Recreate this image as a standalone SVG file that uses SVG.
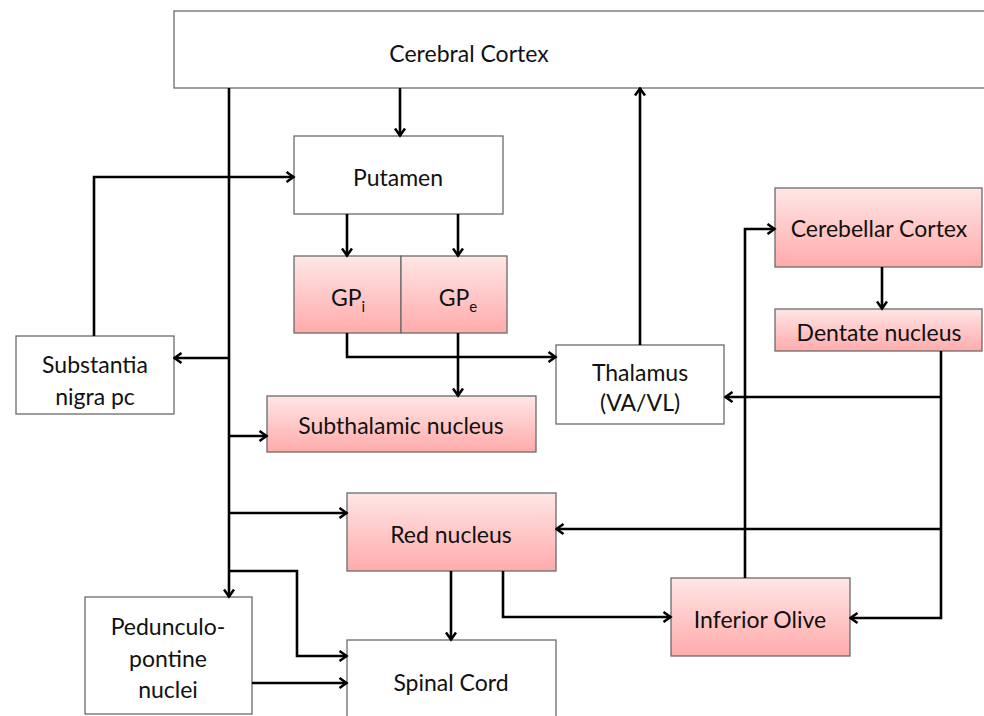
<svg xmlns="http://www.w3.org/2000/svg" width="984" height="716" viewBox="0 0 984 716">
<defs>
<linearGradient id="pink" x1="0" y1="0" x2="0" y2="1">
<stop offset="0" stop-color="#FFE6E6"/>
<stop offset="1" stop-color="#FFABAB"/>
</linearGradient>
<marker id="ah" markerUnits="userSpaceOnUse" viewBox="0 0 12 12" refX="10.5" refY="6" markerWidth="12" markerHeight="12" orient="auto">
<path d="M3,1 L10,6 L3,11" fill="none" stroke="#000" stroke-width="2.5"/>
</marker>
</defs>
<style>
.w{fill:#fff;stroke:#6b6b6b;stroke-width:1.3}
.p{fill:url(#pink);stroke:#6b6b6b;stroke-width:1.3}
text{font-family:Lato,"Open Sans","Liberation Sans",sans-serif;font-size:23px;fill:#111;text-anchor:middle}
.c{fill:none;stroke:#000;stroke-width:2.6}
.a{marker-end:url(#ah)}
</style>
<rect width="984" height="716" fill="#fff"/>
<g id="cerebral-cortex"><rect class="w" x="174" y="11" width="812" height="77"/><text x="469" y="62">Cerebral Cortex</text></g>
<g id="putamen"><rect class="w" x="294" y="136" width="209" height="78"/><text x="398" y="186">Putamen</text></g>
<g id="gpi"><rect class="p" x="294" y="256" width="107" height="77"/><text x="348" y="306">GP<tspan font-size="15" dy="6">i</tspan></text></g>
<g id="gpe"><rect class="p" x="401" y="256" width="106" height="77"/><text x="458" y="306">GP<tspan font-size="15" dy="6">e</tspan></text></g>
<g id="substantia-nigra"><rect class="w" x="16" y="336" width="158" height="78"/><text x="95" y="373">Substantia</text><text x="95" y="405">nigra pc</text></g>
<g id="subthalamic"><rect class="p" x="267" y="396" width="269" height="56"/><text x="401" y="434">Subthalamic nucleus</text></g>
<g id="thalamus"><rect class="w" x="556" y="345" width="168" height="79"/><text x="640" y="381">Thalamus</text><text x="640" y="411">(VA/VL)</text></g>
<g id="cerebellar-cortex"><rect class="p" x="775" y="188" width="207" height="79"/><text x="879" y="237">Cerebellar Cortex</text></g>
<g id="dentate"><rect class="p" x="775" y="309" width="207" height="42"/><text x="879" y="341">Dentate nucleus</text></g>
<g id="red-nucleus"><rect class="p" x="347" y="493" width="209" height="78"/><text x="451" y="543">Red nucleus</text></g>
<g id="inferior-olive"><rect class="p" x="671" y="578" width="179" height="78"/><text x="760" y="628">Inferior Olive</text></g>
<g id="pedunculopontine"><rect class="w" x="85" y="597" width="167" height="117"/><text x="168" y="635">Pedunculo-</text><text x="168" y="667">pontine</text><text x="168" y="698">nuclei</text></g>
<g id="spinal-cord"><rect class="w" x="347" y="640" width="209" height="80"/><text x="451" y="691">Spinal Cord</text></g>
<g id="connectors">
<path class="c a" d="M400,88 V136"/>
<path class="c a" d="M229,88 V597"/>
<path class="c a" d="M229,358 H174"/>
<path class="c a" d="M229,436 H267"/>
<path class="c a" d="M229,513 H347"/>
<path class="c a" d="M229,571 H297 V656 H347"/>
<path class="c a" d="M94,336 V177 H294"/>
<path class="c a" d="M347,214 V256"/>
<path class="c a" d="M458,214 V256"/>
<path class="c a" d="M347,333 V357 H556"/>
<path class="c a" d="M458,333 V396"/>
<path class="c a" d="M640,345 V88"/>
<path class="c a" d="M882,267 V309"/>
<path class="c a" d="M941,351 V618 H850"/>
<path class="c a" d="M941,397 H725"/>
<path class="c a" d="M941,529 H556"/>
<path class="c a" d="M745,578 V229 H775"/>
<path class="c a" d="M451,571 V640"/>
<path class="c a" d="M503,571 V617 H671"/>
<path class="c a" d="M252,683 H347"/>
</g>
</svg>
